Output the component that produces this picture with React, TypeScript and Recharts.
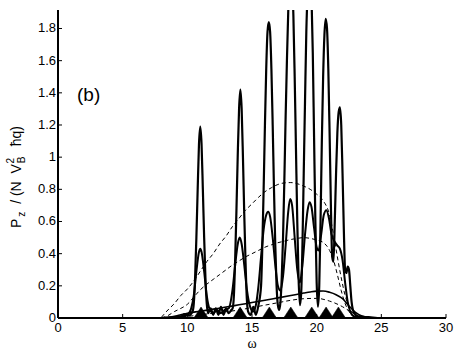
import React from 'react';
import { ComposedChart, Line, XAxis, YAxis, Label, ReferenceDot } from 'recharts';

// ω values and P values
const mainCurve: [number, number][] = [
  [0, 0], [8.0, 0], [8.5, 0.003], [9.0, 0.006], [9.5, 0.01], [9.8, 0.025], [10.1, 0.015], [10.4, 0.04],
  [10.5, 0.09], [10.6, 0.25], [10.7, 0.5], [10.8, 0.8], [10.9, 1.08], [11.0, 1.19], [11.1, 1.08],
  [11.2, 0.8], [11.3, 0.5], [11.4, 0.25], [11.5, 0.09], [11.6, 0.03], [11.8, 0.06], [12.0, 0.02],
  [12.2, 0.06], [12.4, 0.02], [12.6, 0.07], [12.8, 0.02], [13.0, 0.06], [13.2, 0.03], [13.4, 0.05],
  [13.5, 0.06], [13.6, 0.14], [13.7, 0.37], [13.8, 0.68], [13.9, 1.02], [14.0, 1.3], [14.1, 1.42],
  [14.2, 1.3], [14.3, 1.0], [14.4, 0.65], [14.5, 0.35], [14.6, 0.12], [14.7, 0.04], [14.9, 0.02],
  [15.1, 0.07], [15.3, 0.02], [15.5, 0.08], [15.7, 0.2], [15.8, 0.45], [15.9, 0.8], [16.0, 1.2],
  [16.1, 1.55], [16.2, 1.78], [16.3, 1.84], [16.4, 1.78], [16.5, 1.55], [16.6, 1.2], [16.7, 0.8],
  [16.8, 0.45], [16.9, 0.2], [17.0, 0.08], [17.1, 0.05], [17.2, 0.1], [17.3, 0.25], [17.4, 0.5],
  [17.5, 0.85], [17.6, 1.25], [17.7, 1.6], [17.8, 1.9], [17.9, 2.08], [18.0, 2.15], [18.1, 2.08],
  [18.2, 1.88], [18.3, 1.5], [18.4, 1.05], [18.5, 0.6], [18.6, 0.25], [18.7, 0.08], [18.8, 0.15],
  [18.9, 0.45], [19.0, 0.9], [19.1, 1.35], [19.2, 1.78], [19.3, 2.02], [19.4, 2.13], [19.5, 2.13],
  [19.6, 2.0], [19.7, 1.65], [19.8, 1.12], [19.9, 0.6], [20.0, 0.22], [20.1, 0.07], [20.2, 0.2],
  [20.3, 0.6], [20.4, 1.1], [20.5, 1.5], [20.6, 1.76], [20.7, 1.86], [20.8, 1.8], [20.9, 1.55],
  [21.0, 1.15], [21.1, 0.7], [21.2, 0.38], [21.3, 0.35], [21.4, 0.6], [21.5, 0.9], [21.6, 1.15],
  [21.7, 1.28], [21.8, 1.31], [21.9, 1.2], [22.0, 0.9], [22.1, 0.55], [22.2, 0.3], [22.3, 0.28],
  [22.4, 0.32], [22.5, 0.3], [22.6, 0.2], [22.7, 0.1], [22.9, 0.03], [23.2, 0.01], [24.0, 0.005],
  [25.0, 0], [30, 0],
];

const secondCurve: [number, number][] = [
  [8.0, 0], [9.0, 0.003], [9.5, 0.008], [10.0, 0.02], [10.3, 0.06], [10.5, 0.14], [10.7, 0.29],
  [10.9, 0.41], [11.0, 0.43], [11.1, 0.41], [11.3, 0.29], [11.5, 0.14], [11.7, 0.06], [12.0, 0.03],
  [12.3, 0.05], [12.6, 0.03], [12.9, 0.05], [13.2, 0.06], [13.5, 0.18], [13.7, 0.33], [13.9, 0.46],
  [14.05, 0.5], [14.2, 0.46], [14.4, 0.33], [14.6, 0.18], [14.9, 0.06], [15.1, 0.04], [15.3, 0.08],
  [15.5, 0.2], [15.7, 0.38], [15.9, 0.55], [16.1, 0.64], [16.25, 0.66], [16.4, 0.63], [16.6, 0.5],
  [16.8, 0.33], [17.0, 0.2], [17.2, 0.17], [17.4, 0.26], [17.6, 0.45], [17.8, 0.66], [17.95, 0.74],
  [18.1, 0.7], [18.3, 0.5], [18.5, 0.3], [18.7, 0.22], [18.9, 0.33], [19.1, 0.52], [19.3, 0.67],
  [19.45, 0.72], [19.6, 0.69], [19.8, 0.56], [20.0, 0.44], [20.15, 0.42], [20.35, 0.52],
  [20.55, 0.64], [20.75, 0.67], [20.95, 0.62], [21.15, 0.52], [21.35, 0.48], [21.6, 0.45],
  [21.8, 0.43], [22.0, 0.36], [22.2, 0.22], [22.4, 0.1], [22.6, 0.04], [22.9, 0.01], [23.5, 0.003],
  [24.0, 0],
];

const smoothCurve: [number, number][] = [
  [8.0, 0], [8.5, 0.003], [9.0, 0.01], [9.5, 0.02], [10.0, 0.03], [11.0, 0.042], [12.0, 0.055],
  [13.0, 0.068], [14.0, 0.082], [15.0, 0.096], [16.0, 0.11], [17.0, 0.125], [18.0, 0.14],
  [19.0, 0.155], [19.5, 0.162], [20.0, 0.167], [20.5, 0.168], [21.0, 0.16], [21.5, 0.145],
  [22.0, 0.12], [22.5, 0.075], [23.0, 0.035], [23.5, 0.012], [24.0, 0.004], [25.0, 0],
];

const dashedUpper: [number, number][] = [
  [8.0, 0.005], [8.5, 0.05], [9.0, 0.09], [9.5, 0.14], [10.0, 0.18], [10.5, 0.23], [11.0, 0.29],
  [11.5, 0.35], [12.0, 0.4], [12.5, 0.46], [13.0, 0.51], [13.5, 0.57], [14.0, 0.62], [14.5, 0.67],
  [15.0, 0.71], [15.5, 0.75], [16.0, 0.785], [16.5, 0.81], [17.0, 0.83], [17.5, 0.84], [18.0, 0.842],
  [18.5, 0.835], [19.0, 0.82], [19.5, 0.8], [20.0, 0.77], [20.5, 0.73], [21.0, 0.64], [21.3, 0.52],
  [21.6, 0.38], [21.9, 0.25], [22.2, 0.14], [22.5, 0.07], [22.8, 0.03], [23.2, 0.01], [23.6, 0],
];

const dashedLower: [number, number][] = [
  [8.0, 0], [8.5, 0.015], [9.0, 0.04], [9.5, 0.06], [10.0, 0.085], [10.5, 0.13], [11.0, 0.175],
  [11.5, 0.21], [12.0, 0.24], [12.5, 0.27], [13.0, 0.3], [13.5, 0.33], [14.0, 0.355], [14.5, 0.38],
  [15.0, 0.4], [15.5, 0.42], [16.0, 0.44], [16.5, 0.455], [17.0, 0.468], [17.5, 0.478],
  [18.0, 0.488], [18.5, 0.495], [19.0, 0.5], [19.5, 0.495], [20.0, 0.485], [20.5, 0.47],
  [21.0, 0.42], [21.3, 0.36], [21.6, 0.27], [21.9, 0.17], [22.2, 0.09], [22.5, 0.04], [22.8, 0.015],
  [23.2, 0],
];

const dashedSmall: [number, number][] = [
  [8.0, 0], [10.0, 0.01], [12.0, 0.03], [14.0, 0.05], [15.0, 0.065], [16.0, 0.08], [17.0, 0.095],
  [18.0, 0.11], [19.0, 0.12], [20.0, 0.122], [21.0, 0.105], [22.0, 0.07], [22.5, 0.045],
  [23.0, 0.025], [23.5, 0.01], [24.0, 0],
];

const markerOmegas: number[] = [11.06, 14.08, 16.34, 18.0, 19.62, 20.73, 21.68];

const xTicks: number[] = [0, 5, 10, 15, 20, 25, 30];
const yTicks: number[] = [0, 0.2, 0.4, 0.6, 0.8, 1, 1.2, 1.4, 1.6, 1.8];

const toRows = (pts: [number, number][]) => pts.map(([w, p]) => ({ w, p }));
const markerRows = markerOmegas.map((w) => ({ w, p: 0 }));

const FONT = 'Liberation Sans, Arial, Helvetica, sans-serif';

const XTick = (props: any) => {
  const { x, y, payload } = props;
  return (
    <g>
      <line x1={x} y1={y} x2={x} y2={y - 4} stroke="#000" strokeWidth={1} />
      <text x={x} y={y + 14} textAnchor="middle" fontSize={13} fontFamily={FONT} fill="#000">
        {String(payload.value)}
      </text>
    </g>
  );
};

const YTick = (props: any) => {
  const { x, y, payload } = props;
  return (
    <g>
      <line x1={x} y1={y} x2={x + 4} y2={y} stroke="#000" strokeWidth={1} />
      <text x={x - 2} y={y + 4} textAnchor="end" fontSize={13} fontFamily={FONT} fill="#000">
        {String(Number(Number(payload.value).toFixed(1)))}
      </text>
    </g>
  );
};

const Triangle = (props: any) => {
  const { cx, cy } = props;
  if (cx == null || cy == null) return null;
  return (
    <polygon
      points={`${cx - 6.5},${cy - 1} ${cx + 6.5},${cy - 1} ${cx},${cy - 11}`}
      fill="#000"
      stroke="#000"
      strokeWidth={0.5}
    />
  );
};

const YLabel = () => (
  <text
    transform="translate(21,177) rotate(-90)"
    textAnchor="middle"
    fontSize={14}
    fontFamily={FONT}
    fill="#000"
    style={{ whiteSpace: 'pre' }}
  >
    P
    <tspan fontSize={10} dx={2} dy={4}>z</tspan>
    <tspan dy={-4}>{'  / (N  V'}</tspan>
    <tspan fontSize={10} dx={1} dy={4}>B</tspan>
    <tspan fontSize={10} dx={-7} dy={-11}>2</tspan>
    <tspan dy={7}>{'   ħq)'}</tspan>
  </text>
);

const PanelTag = (props: any) => {
  const { cx, cy } = props;
  if (cx == null || cy == null) return null;
  return (
    <text x={cx} y={cy} fontSize={19} fontFamily={FONT} fill="#000">
      (b)
    </text>
  );
};

export default function App() {
  return (
    <div style={{ position: 'absolute', left: 0, top: 0, background: '#fff' }}>
      <ComposedChart width={457} height={351} margin={{ top: 10, right: 11, bottom: 0, left: 0 }}>
        <XAxis
          dataKey="w"
          type="number"
          domain={[0, 30]}
          ticks={xTicks}
          interval={0}
          height={33}
          tickSize={0}
          tickMargin={0}
          tick={<XTick />}
          axisLine={{ stroke: '#000', strokeWidth: 2 }}
          allowDataOverflow
        >
          <Label
            value="ω"
            position="insideBottom"
            offset={3}
            style={{ fontSize: 14, fontFamily: 'Liberation Serif, DejaVu Serif, serif', fill: '#000' }}
          />
        </XAxis>
        <YAxis
          type="number"
          domain={[0, 1.915]}
          ticks={yTicks}
          interval={0}
          width={58}
          tickSize={0}
          tickMargin={0}
          tick={<YTick />}
          axisLine={{ stroke: '#000', strokeWidth: 2 }}
          allowDataOverflow
        >
          <Label content={<YLabel />} />
        </YAxis>
        <Line data={toRows(dashedUpper)} dataKey="p" type="monotone" stroke="#000" strokeWidth={1}
          strokeDasharray="4 3" dot={false} isAnimationActive={false} />
        <Line data={toRows(dashedLower)} dataKey="p" type="monotone" stroke="#000" strokeWidth={1}
          strokeDasharray="4 3" dot={false} isAnimationActive={false} />
        <Line data={toRows(dashedSmall)} dataKey="p" type="monotone" stroke="#000" strokeWidth={1}
          strokeDasharray="4 3" dot={false} isAnimationActive={false} />
        <Line data={toRows(smoothCurve)} dataKey="p" type="monotone" stroke="#000" strokeWidth={1.6}
          dot={false} isAnimationActive={false} />
        <Line data={toRows(secondCurve)} dataKey="p" type="monotone" stroke="#000" strokeWidth={2}
          dot={false} isAnimationActive={false} />
        <Line data={toRows(mainCurve)} dataKey="p" type="monotone" stroke="#000" strokeWidth={2.2}
          dot={false} isAnimationActive={false} />
        <Line data={markerRows} dataKey="p" stroke="none" dot={<Triangle />} isAnimationActive={false} />
        <ReferenceDot x={1.47} y={1.35} r={0} shape={<PanelTag />} ifOverflow="visible" />
      </ComposedChart>
    </div>
  );
}
